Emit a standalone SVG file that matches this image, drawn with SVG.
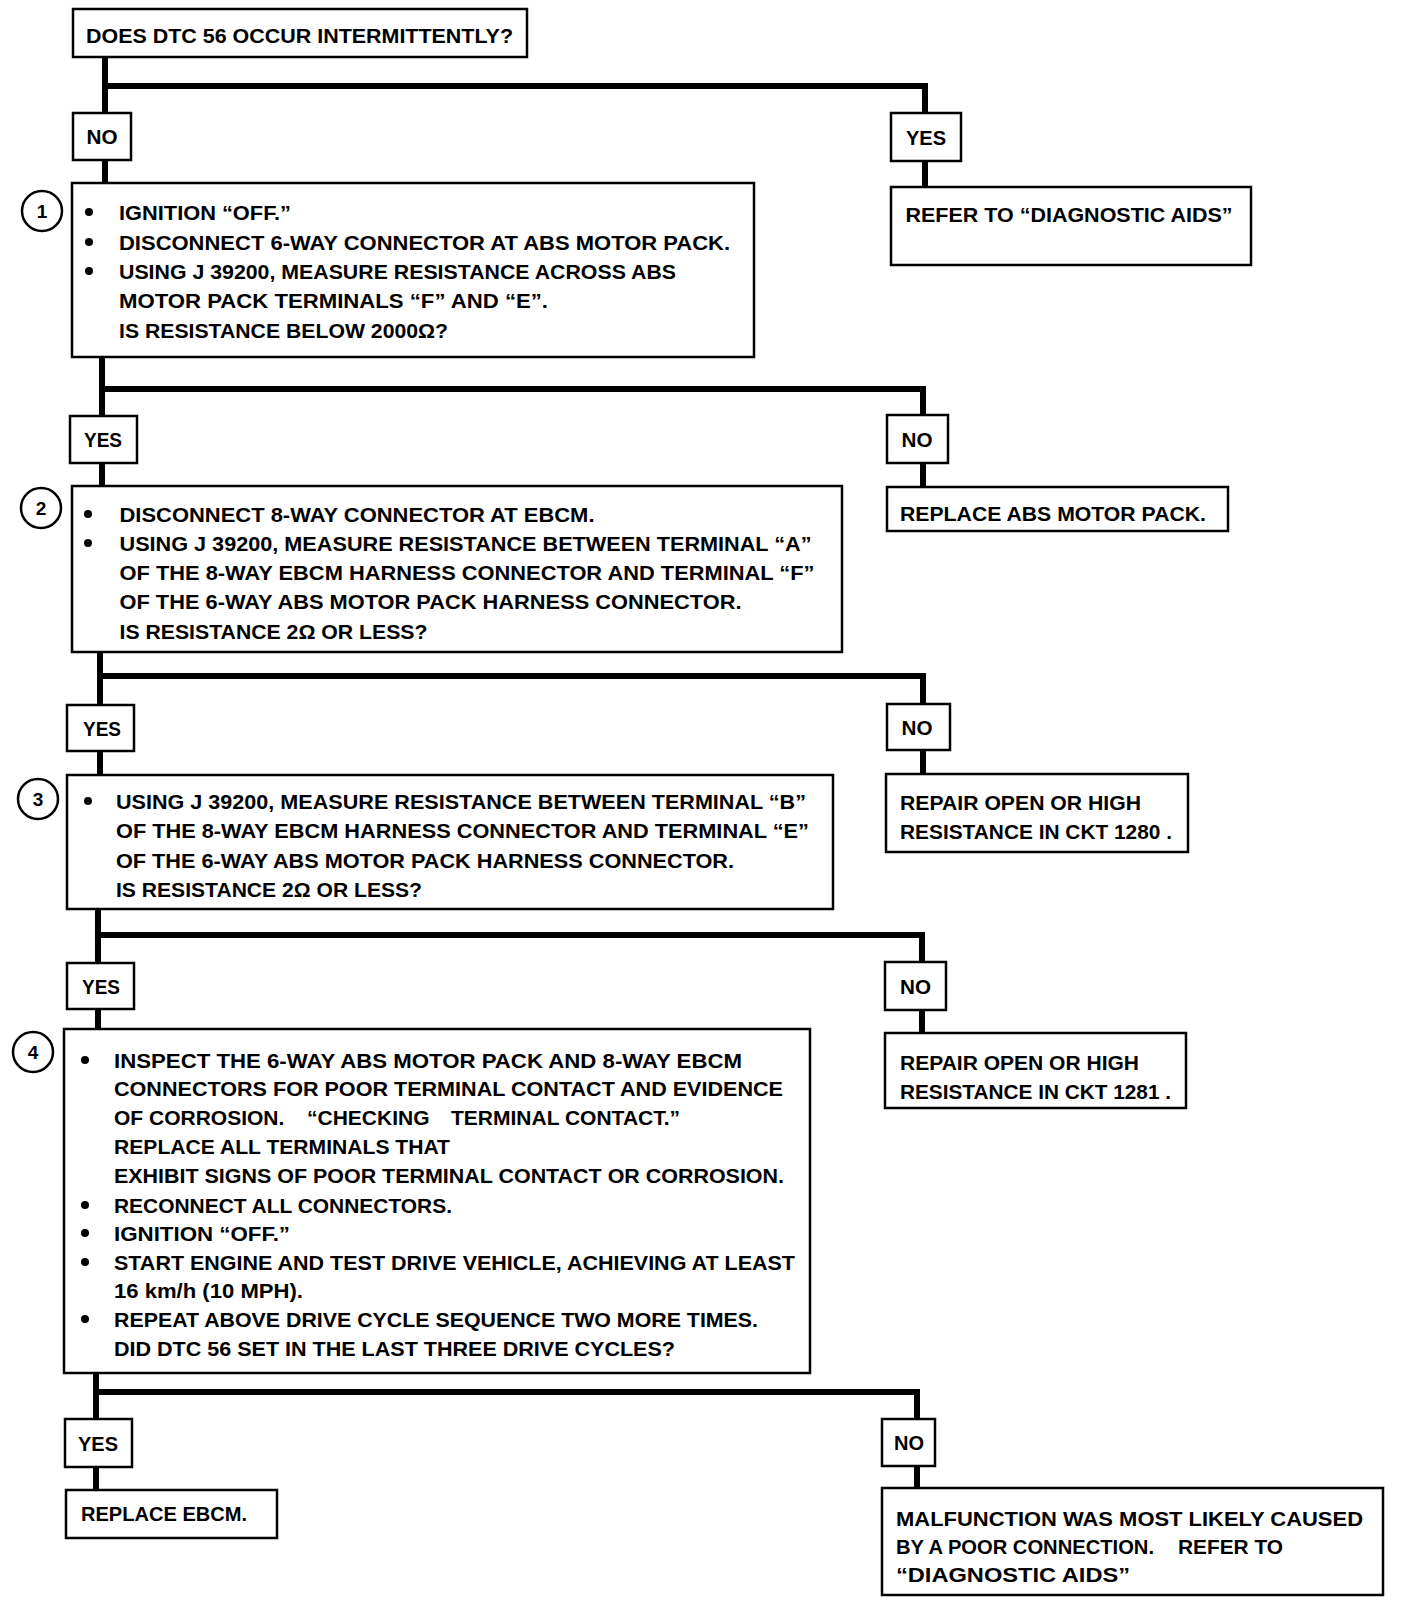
<svg xmlns="http://www.w3.org/2000/svg" width="1408" height="1602" viewBox="0 0 1408 1602">
<style>
.box{fill:#fff;stroke:#000;stroke-width:2.5}
.t{font-family:"Liberation Sans",Arial,sans-serif;font-weight:bold;font-size:21px;fill:#000}
.m{text-anchor:middle}
.c{stroke:#000;stroke-width:6;fill:none;stroke-linejoin:miter}
.ring{fill:#fff;stroke:#000;stroke-width:2.5}
.n{font-family:"Liberation Sans",Arial,sans-serif;font-weight:bold;font-size:19px;fill:#000;text-anchor:middle}
.dot{fill:#000}
</style>
<rect width="1408" height="1602" fill="#fff"/>
<g id="connectors">
<path class="c" d="M105 57V183M105 86H925V187"/>
<path class="c" d="M102 357V486M102 389H923V487"/>
<path class="c" d="M100 652V775M100 676H923V774"/>
<path class="c" d="M98 909V1029M98 935H922V1033"/>
<path class="c" d="M96 1373V1490M96 1392H917V1488"/>
</g>
<g id="q0">
<rect class="box" x="73" y="9" width="454" height="48"/>
<text class="t" x="86" y="43" textLength="427" lengthAdjust="spacingAndGlyphs">DOES DTC 56 OCCUR INTERMITTENTLY?</text>
</g>
<g id="no1">
<rect class="box" x="73" y="113" width="58" height="47"/>
<text class="t m" x="102" y="144" textLength="31" lengthAdjust="spacingAndGlyphs">NO</text>
</g>
<g id="yes1">
<rect class="box" x="891" y="113" width="70" height="48"/>
<text class="t m" x="926" y="144.5" textLength="40" lengthAdjust="spacingAndGlyphs">YES</text>
</g>
<g id="refer1">
<rect class="box" x="891" y="187" width="360" height="78"/>
<text class="t" x="905.5" y="221.5" textLength="327" lengthAdjust="spacingAndGlyphs">REFER TO “DIAGNOSTIC AIDS”</text>
</g>
<g id="step1">
<rect class="box" x="72" y="183" width="682" height="174"/>
<circle class="ring" cx="42" cy="211" r="20"/>
<text class="n" x="42" y="218">1</text>
<circle class="dot" cx="89" cy="212" r="4"/>
<circle class="dot" cx="89" cy="242" r="4"/>
<circle class="dot" cx="89" cy="271" r="4"/>
<text class="t" x="119" y="219.5" textLength="172" lengthAdjust="spacingAndGlyphs">IGNITION “OFF.”</text>
<text class="t" x="119" y="249.5" textLength="611" lengthAdjust="spacingAndGlyphs">DISCONNECT 6-WAY CONNECTOR AT ABS MOTOR PACK.</text>
<text class="t" x="119" y="278.5" textLength="557" lengthAdjust="spacingAndGlyphs">USING J 39200, MEASURE RESISTANCE ACROSS ABS</text>
<text class="t" x="119" y="307.5" textLength="429" lengthAdjust="spacingAndGlyphs">MOTOR PACK TERMINALS “F” AND “E”.</text>
<text class="t" x="119" y="337.5" textLength="329" lengthAdjust="spacingAndGlyphs">IS RESISTANCE BELOW 2000Ω?</text>
</g>
<g id="yes2">
<rect class="box" x="70" y="416" width="67" height="47"/>
<text class="t m" x="103" y="447" textLength="38" lengthAdjust="spacingAndGlyphs">YES</text>
</g>
<g id="no2">
<rect class="box" x="887" y="415" width="61" height="48"/>
<text class="t m" x="917" y="447" textLength="31" lengthAdjust="spacingAndGlyphs">NO</text>
</g>
<g id="replace-motor">
<rect class="box" x="887" y="487" width="341" height="44"/>
<text class="t" x="900" y="520.5" textLength="306" lengthAdjust="spacingAndGlyphs">REPLACE ABS MOTOR PACK.</text>
</g>
<g id="step2">
<rect class="box" x="72" y="486" width="770" height="166"/>
<circle class="ring" cx="41" cy="508" r="20"/>
<text class="n" x="41" y="515">2</text>
<circle class="dot" cx="88" cy="514" r="4"/>
<circle class="dot" cx="88" cy="543" r="4"/>
<text class="t" x="119.5" y="521.5" textLength="475" lengthAdjust="spacingAndGlyphs">DISCONNECT 8-WAY CONNECTOR AT EBCM.</text>
<text class="t" x="119.5" y="550.5" textLength="692" lengthAdjust="spacingAndGlyphs">USING J 39200, MEASURE RESISTANCE BETWEEN TERMINAL “A”</text>
<text class="t" x="119.5" y="579.5" textLength="695" lengthAdjust="spacingAndGlyphs">OF THE 8-WAY EBCM HARNESS CONNECTOR AND TERMINAL “F”</text>
<text class="t" x="119.5" y="608.5" textLength="622" lengthAdjust="spacingAndGlyphs">OF THE 6-WAY ABS MOTOR PACK HARNESS CONNECTOR.</text>
<text class="t" x="119.5" y="638.5" textLength="308" lengthAdjust="spacingAndGlyphs">IS RESISTANCE 2Ω OR LESS?</text>
</g>
<g id="yes3">
<rect class="box" x="67" y="705" width="67" height="46"/>
<text class="t m" x="102" y="735.5" textLength="38" lengthAdjust="spacingAndGlyphs">YES</text>
</g>
<g id="no3">
<rect class="box" x="887" y="704" width="63" height="46"/>
<text class="t m" x="917" y="734.5" textLength="31" lengthAdjust="spacingAndGlyphs">NO</text>
</g>
<g id="repair1280">
<rect class="box" x="886" y="774" width="302" height="78"/>
<text class="t" x="900" y="810" textLength="241" lengthAdjust="spacingAndGlyphs">REPAIR OPEN OR HIGH</text>
<text class="t" x="900" y="839" textLength="272" lengthAdjust="spacingAndGlyphs">RESISTANCE IN CKT 1280 .</text>
</g>
<g id="step3">
<rect class="box" x="67" y="775" width="766" height="134"/>
<circle class="ring" cx="38" cy="799" r="20"/>
<text class="n" x="38" y="806">3</text>
<circle class="dot" cx="88" cy="801" r="4"/>
<text class="t" x="116" y="808.5" textLength="690" lengthAdjust="spacingAndGlyphs">USING J 39200, MEASURE RESISTANCE BETWEEN TERMINAL “B”</text>
<text class="t" x="116" y="838" textLength="693" lengthAdjust="spacingAndGlyphs">OF THE 8-WAY EBCM HARNESS CONNECTOR AND TERMINAL “E”</text>
<text class="t" x="116" y="867.5" textLength="618" lengthAdjust="spacingAndGlyphs">OF THE 6-WAY ABS MOTOR PACK HARNESS CONNECTOR.</text>
<text class="t" x="116" y="897" textLength="306" lengthAdjust="spacingAndGlyphs">IS RESISTANCE 2Ω OR LESS?</text>
</g>
<g id="yes4">
<rect class="box" x="67" y="963" width="67" height="46"/>
<text class="t m" x="101" y="993.5" textLength="38" lengthAdjust="spacingAndGlyphs">YES</text>
</g>
<g id="no4">
<rect class="box" x="885" y="962" width="61" height="48"/>
<text class="t m" x="915.5" y="993.5" textLength="31" lengthAdjust="spacingAndGlyphs">NO</text>
</g>
<g id="repair1281">
<rect class="box" x="885" y="1033" width="301" height="75"/>
<text class="t" x="900" y="1069.5" textLength="239" lengthAdjust="spacingAndGlyphs">REPAIR OPEN OR HIGH</text>
<text class="t" x="900" y="1099" textLength="271" lengthAdjust="spacingAndGlyphs">RESISTANCE IN CKT 1281 .</text>
</g>
<g id="step4">
<rect class="box" x="64" y="1029" width="746" height="344"/>
<circle class="ring" cx="33" cy="1052" r="20"/>
<text class="n" x="33" y="1059">4</text>
<circle class="dot" cx="85" cy="1060" r="4"/>
<circle class="dot" cx="85" cy="1205" r="4"/>
<circle class="dot" cx="85" cy="1233" r="4"/>
<circle class="dot" cx="85" cy="1262" r="4"/>
<circle class="dot" cx="85" cy="1319" r="4"/>
<text class="t" x="114" y="1067.5" textLength="628" lengthAdjust="spacingAndGlyphs">INSPECT THE 6-WAY ABS MOTOR PACK AND 8-WAY EBCM</text>
<text class="t" x="114" y="1096" textLength="669" lengthAdjust="spacingAndGlyphs">CONNECTORS FOR POOR TERMINAL CONTACT AND EVIDENCE</text>
<text class="t" y="1124.5"><tspan x="114">OF CORROSION.</tspan><tspan x="307">“CHECKING</tspan><tspan x="451">TERMINAL CONTACT.”</tspan></text>
<text class="t" x="114" y="1153.5" textLength="336" lengthAdjust="spacingAndGlyphs">REPLACE ALL TERMINALS THAT</text>
<text class="t" x="114" y="1182.5" textLength="670" lengthAdjust="spacingAndGlyphs">EXHIBIT SIGNS OF POOR TERMINAL CONTACT OR CORROSION.</text>
<text class="t" x="114" y="1212.5" textLength="338" lengthAdjust="spacingAndGlyphs">RECONNECT ALL CONNECTORS.</text>
<text class="t" x="114" y="1240.5" textLength="176" lengthAdjust="spacingAndGlyphs">IGNITION “OFF.”</text>
<text class="t" x="114" y="1269.5" textLength="681" lengthAdjust="spacingAndGlyphs">START ENGINE AND TEST DRIVE VEHICLE, ACHIEVING AT LEAST</text>
<text class="t" x="114" y="1298" textLength="189" lengthAdjust="spacingAndGlyphs">16 km/h (10 MPH).</text>
<text class="t" x="114" y="1326.5" textLength="644" lengthAdjust="spacingAndGlyphs">REPEAT ABOVE DRIVE CYCLE SEQUENCE TWO MORE TIMES.</text>
<text class="t" x="114" y="1355.5" textLength="561" lengthAdjust="spacingAndGlyphs">DID DTC 56 SET IN THE LAST THREE DRIVE CYCLES?</text>
</g>
<g id="yes5">
<rect class="box" x="65" y="1419" width="67" height="48"/>
<text class="t m" x="98" y="1450.5" textLength="40" lengthAdjust="spacingAndGlyphs">YES</text>
</g>
<g id="replace-ebcm">
<rect class="box" x="66" y="1490" width="211" height="48"/>
<text class="t" x="81" y="1520.5" textLength="166" lengthAdjust="spacingAndGlyphs">REPLACE EBCM.</text>
</g>
<g id="no5">
<rect class="box" x="882" y="1419" width="53" height="47"/>
<text class="t m" x="909" y="1449.5" textLength="30" lengthAdjust="spacingAndGlyphs">NO</text>
</g>
<g id="malfunction">
<rect class="box" x="882" y="1488" width="501" height="107"/>
<text class="t" x="896" y="1525.5" textLength="467" lengthAdjust="spacingAndGlyphs">MALFUNCTION WAS MOST LIKELY CAUSED</text>
<text class="t" y="1554"><tspan x="896" textLength="258" lengthAdjust="spacingAndGlyphs">BY A POOR CONNECTION.</tspan><tspan x="1178" textLength="105" lengthAdjust="spacingAndGlyphs">REFER TO</tspan></text>
<text class="t" x="896" y="1582" textLength="234" lengthAdjust="spacingAndGlyphs">“DIAGNOSTIC AIDS”</text>
</g>
</svg>
